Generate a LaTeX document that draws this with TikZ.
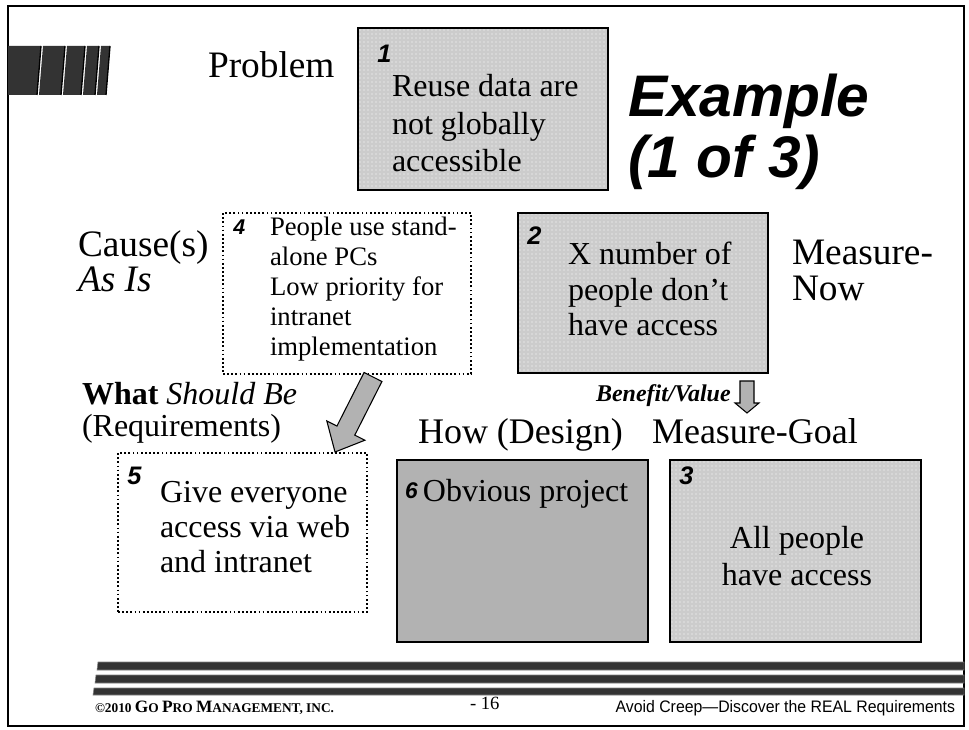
\documentclass[tikz,border=0pt]{standalone}
\usepackage{fontspec}
\setmainfont{Liberation Serif}
\newfontfamily\headsans{Liberation Sans}
\newfontfamily\footsans[FakeStretch=0.95]{Liberation Sans}
\usetikzlibrary{patterns,fit,calc}

% multi-line text whose reference point is the first baseline
\newcommand\linesL[1]{\begin{tabular}[t]{@{}l@{}}#1\end{tabular}}
\newcommand\linesC[1]{\begin{tabular}[t]{@{}c@{}}#1\end{tabular}}
% larger capital for the hand-made small caps of the footer
\newcommand\capletter[1]{{\fontsize{13}{14}\selectfont #1}}
% block arrow: #1 tail, #2 tip, #3 half shaft width, #4 half head width, #5 head length
\newcommand\blkarrow[5]{%
  \coordinate (#2-h) at ($(#2)!#5!(#1)$);
  \draw[blockarrow] ($(#1)!#3!90:(#2)$) -- ($(#2-h)!#3!90:(#2)$) -- ($(#2-h)!#4!90:(#2)$)
    -- (#2) -- ($(#2-h)!#4!-90:(#2)$) -- ($(#2-h)!#3!-90:(#2)$) -- ($(#1)!#3!-90:(#2)$) -- cycle;}

\begin{document}
\begin{tikzpicture}[x=0.75pt,y=-0.75pt,
  lbl/.style={anchor=base west, inner sep=0pt, outer sep=0pt},
  num/.style={anchor=north west, inner sep=0pt, font=\headsans\bfseries\itshape\fontsize{19}{19}\selectfont},
  solidbox/.style={draw=black, line width=1.8pt, inner sep=0pt},
  dotbox/.style={draw=black, line width=1.3pt, dash pattern=on 1.3pt off 1.8pt, inner sep=0pt},
  stipple/.style={preaction={fill=black!20}, pattern=dots, pattern color=white},
  blockarrow/.style={fill=black!30, draw=black, line width=0.8pt, line join=miter},
  stripe/.style={fill=black!80, draw=black!50, line width=0.4pt},
  deco/.style={fill=black!80},
]
\useasboundingbox (0,0) rectangle (969,730);
\fill[white] (0,0) rectangle (969,730);

% slide frame
\draw[line width=1.5pt] (8,6) rectangle (964,726);

% striped tab at the top left
\fill[deco] (8,46) -- (41,46) -- (37,95) -- (8,95) -- cycle;
\fill[deco] (43,46) -- (65,46) -- (61,95) -- (39,95) -- cycle;
\fill[deco] (67,46) -- (85,46) -- (81,95) -- (63,95) -- cycle;
\fill[deco] (87,46) -- (99,46) -- (95,95) -- (83,95) -- cycle;
\fill[deco] (101,46) -- (110,46) -- (106,95) -- (97,95) -- cycle;
\draw[line width=1pt] (41,46) -- (37,95) (65,46) -- (61,95) (85,46) -- (81,95)
  (99,46) -- (95,95) (110,46) -- (106,95);

% boxes
\node[fit={(358,28) (608,190)}, solidbox, stipple] (b1) {};
\node[fit={(518,213) (768,373)}, solidbox, stipple] (b2) {};
\node[fit={(670,460) (921,642)}, solidbox, stipple] (b3) {};
\node[fit={(223,213) (471,374)}, dotbox] (b4) {};
\node[fit={(118,453) (367,612)}, dotbox] (b5) {};
\node[fit={(397,460) (648,642)}, solidbox, fill=black!30] (b6) {};

% box numbers
\node[num] (n1) at (377,45) {1};
\node[num] (n2) at (527,227) {2};
\node[num] (n3) at (679,467) {3};
\node[num, font=\headsans\bfseries\itshape\fontsize{16}{16}\selectfont] (n4) at (233,220) {4};
\node[num] (n5) at (127,467) {5};

% box texts
\node[lbl, font=\fontsize{24}{28.1}\selectfont] (t1) at (392,97) {\linesL{Reuse data are\\not globally\\accessible}};
\node[lbl, font=\fontsize{24}{26.3}\selectfont] (t2) at (568,265) {\linesL{X number of\\people don’t\\have access}};
\node[lbl, font=\fontsize{20}{22.5}\selectfont] (t4) at (270,236) {\linesL{People use stand-\\alone PCs\\Low priority for\\intranet\\implementation}};
\node[lbl, font=\fontsize{24}{26.6}\selectfont] (t5) at (160,502) {\linesL{Give everyone\\access via web\\and intranet}};
\node[lbl, font=\fontsize{24}{27.8}\selectfont, anchor=base] (t3) at (797,548) {\linesC{All people\\have access}};
\node[lbl, font=\fontsize{24}{28}\selectfont] (t6) at (405,501) {\raisebox{2pt}{\headsans\bfseries\itshape\fontsize{17}{17}\selectfont 6}\,Obvious project};

% side labels
\node[lbl, font=\fontsize{28}{28}\selectfont] (problem) at (208,78) {Problem};
\node[lbl, font=\headsans\bfseries\itshape\fontsize{44}{45}\selectfont] (title) at (628,117) {\linesL{Example\\(1 of 3)}};
\node[lbl, font=\fontsize{28}{24.8}\selectfont] (cause) at (78,257) {\linesL{Cause(s)\\\textit{As Is}}};
\node[lbl, font=\fontsize{28}{26.3}\selectfont] (mnow) at (792,265) {\linesL{Measure-\\Now}};
\node[lbl, font=\fontsize{24}{24}\selectfont] (what) at (82,404) {\linesL{\textbf{What} \textit{Should Be}\\(Requirements)}};
\node[lbl, font=\fontsize{27}{27}\selectfont] (how) at (418,443) {How (Design)};
\node[lbl, font=\fontsize{27}{27}\selectfont] (mgoal) at (652,443) {Measure-Goal};
\node[lbl, font=\bfseries\itshape\fontsize{18}{18}\selectfont] (benefit) at (596,401) {Benefit/Value};

% block arrows
\coordinate (a4) at (373,377);
\coordinate (a5) at (335,452);
\blkarrow{a4}{a5}{7.5pt}{16pt}{18pt}
\coordinate (bvtail) at (747,381);
\coordinate (bvtip) at (747,413);
\blkarrow{bvtail}{bvtip}{5.25pt}{9pt}{7.5pt}

% footer stripes
\fill[stripe] (98,662) -- (964,662) -- (964,670) -- (97,670) -- cycle;
\fill[stripe] (96,675) -- (964,675) -- (964,683) -- (95,683) -- cycle;
\fill[stripe] (94,688) -- (964,688) -- (964,695) -- (93,695) -- cycle;

% footer texts
\node[lbl, font=\bfseries\fontsize{10}{12}\selectfont] (copy) at (95,712)
  {©2010 \capletter{G}O \capletter{P}RO \capletter{M}ANAGEMENT, INC.};
\node[lbl, font=\fontsize{14}{16}\selectfont] (page) at (470,709) {- 16};
\node[lbl, anchor=base east, font=\footsans\fontsize{12.5}{14}\selectfont] (tag) at (955,712)
  {Avoid Creep—Discover the REAL Requirements};
\end{tikzpicture}
\end{document}
